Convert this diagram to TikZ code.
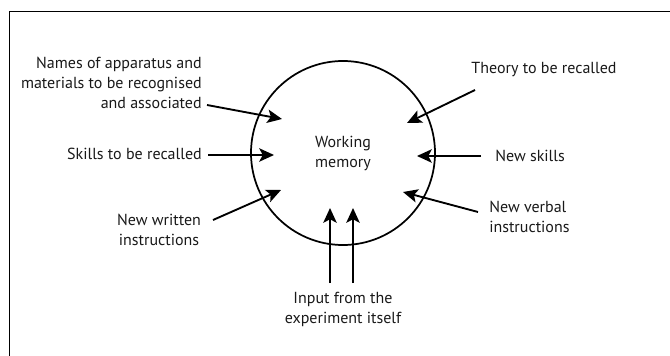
\documentclass[tikz,border=0pt]{standalone}
\usepackage{fontspec}
\setmainfont{PT Sans}
\usetikzlibrary{shapes,arrows.meta}
\tikzstyle{txt} = [font=\fontsize{12}{15}\selectfont, text=black!90, inner sep=0pt]
\tikzstyle{memory} = [circle, draw, line width=1.3pt, minimum size=138pt,
    align=center, text=black!90, font=\fontsize{12}{15}\selectfont]
\tikzstyle{line} = [draw, line width=1.4pt, -{Stealth[length=11pt,width=10pt,inset=2.5pt]}]

\begin{document}
\begin{tikzpicture}[x=0.75pt, y=-0.75pt]
	\useasboundingbox (0,0) rectangle (670,356);
	\draw[line width=0.6pt] (9,356) -- (9,11) -- (670,11);

	\node [memory] (wm) at (343,153) {Working\\memory};

	\node [txt, align=right, anchor=east] (names) at (202,83) {Names of apparatus and\\materials to be recognised\\and associated};
	\node [txt, anchor=east] (skills) at (202,154) {Skills to be recalled};
	\node [txt, align=center] (written) at (159,230) {New written\\instructions};
	\node [txt] (theory) at (544,70) {Theory to be recalled};
	\node [txt, anchor=west] (newskills) at (495,156) {New skills};
	\node [txt, align=left, anchor=west] (verbal) at (489,217) {New verbal\\instructions};
	\node [txt, align=center] (input) at (343,309) {Input from the\\experiment itself};

	% tails and tips
	\coordinate (names-a) at (207,105);  \coordinate (names-b) at (282,119);
	\coordinate (skills-a) at (208,155); \coordinate (skills-b) at (274,155);
	\coordinate (written-a) at (213,220); \coordinate (written-b) at (281,190);
	\coordinate (theory-a) at (475,90);  \coordinate (theory-b) at (407,123);
	\coordinate (newskills-a) at (481,156); \coordinate (newskills-b) at (417,156);
	\coordinate (verbal-a) at (478,212); \coordinate (verbal-b) at (403,192);
	\coordinate (input-a) at (330,283); \coordinate (input-b) at (330,208);
	\coordinate (input-c) at (353,283); \coordinate (input-d) at (353,208);

	\path [line] (names-a) -- (names-b);
	\path [line] (skills-a) -- (skills-b);
	\path [line] (written-a) -- (written-b);
	\path [line] (theory-a) -- (theory-b);
	\path [line] (newskills-a) -- (newskills-b);
	\path [line] (verbal-a) -- (verbal-b);
	\path [line] (input-a) -- (input-b);
	\path [line] (input-c) -- (input-d);
\end{tikzpicture}
\end{document}
